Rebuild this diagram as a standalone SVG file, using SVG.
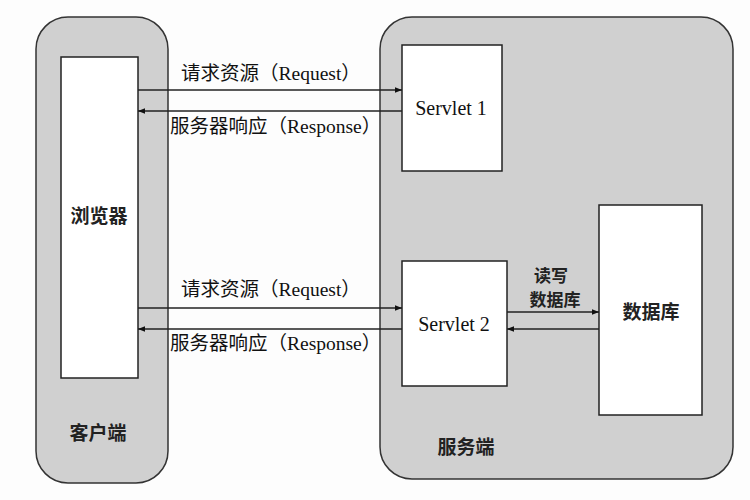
<svg xmlns="http://www.w3.org/2000/svg" width="750" height="500" viewBox="0 0 750 500">
<style>
.zone{fill:#d0d0d0;stroke:#333;stroke-width:1.5}
.box{fill:#fff;stroke:#222;stroke-width:1.5}
.t{font-family:"Liberation Serif","Noto Sans CJK SC",serif;font-size:19.5px;fill:#111}
.s{font-family:"Liberation Serif",serif;font-size:20px;fill:#111}
.c{font-family:"Noto Sans CJK SC",sans-serif;font-size:19px;font-weight:bold;fill:#222}
.rw{font-family:"Noto Sans CJK SC",sans-serif;font-size:17px;font-weight:bold;fill:#222}
.ln{stroke:#222;stroke-width:1.3;fill:none;marker-end:url(#ah)}
</style>
<defs>
<marker id="ah" viewBox="0 0 10 10" refX="10" refY="5" markerWidth="13" markerHeight="7" markerUnits="userSpaceOnUse" orient="auto">
<path d="M0,1 L10,5 L0,9 Z" fill="#111"/>
</marker>
</defs>
<rect width="750" height="500" fill="#fdfdfd"/>
<g id="client">
<rect class="zone" x="36" y="17" width="132" height="466" rx="32"/>
<text class="c" x="98" y="440" text-anchor="middle">客户端</text>
</g>
<g id="server">
<rect class="zone" x="380" y="17" width="353" height="462" rx="32"/>
<text class="c" x="466" y="454" text-anchor="middle">服务端</text>
</g>
<g id="browser">
<rect class="box" x="61" y="57" width="77" height="321"/>
<text class="c" x="99" y="223" text-anchor="middle">浏览器</text>
</g>
<g id="servlet1">
<rect class="box" x="402" y="45" width="100" height="126"/>
<text class="s" x="451" y="115" text-anchor="middle">Servlet 1</text>
</g>
<g id="servlet2">
<rect class="box" x="402" y="261" width="105" height="125"/>
<text class="s" x="454" y="331" text-anchor="middle">Servlet 2</text>
</g>
<g id="database">
<rect class="box" x="599" y="205" width="103" height="210"/>
<text class="c" x="651" y="319" text-anchor="middle">数据库</text>
</g>
<g id="connectors">
<line class="ln" x1="138" y1="90" x2="402" y2="90"/>
<line class="ln" x1="402" y1="111" x2="138" y2="111"/>
<line class="ln" x1="138" y1="308" x2="402" y2="308"/>
<line class="ln" x1="402" y1="329" x2="138" y2="329"/>
<line class="ln" x1="507" y1="312" x2="599" y2="312"/>
<line class="ln" x1="599" y1="329" x2="507" y2="329"/>
<text class="t" x="181" y="80">请求资源（Request）</text>
<text class="t" x="170" y="133">服务器响应（Response）</text>
<text class="t" x="181" y="296">请求资源（Request）</text>
<text class="t" x="170" y="350">服务器响应（Response）</text>
<text class="rw" x="551" y="282" text-anchor="middle">读写</text>
<text class="rw" x="555" y="306" text-anchor="middle">数据库</text>
</g>
</svg>
